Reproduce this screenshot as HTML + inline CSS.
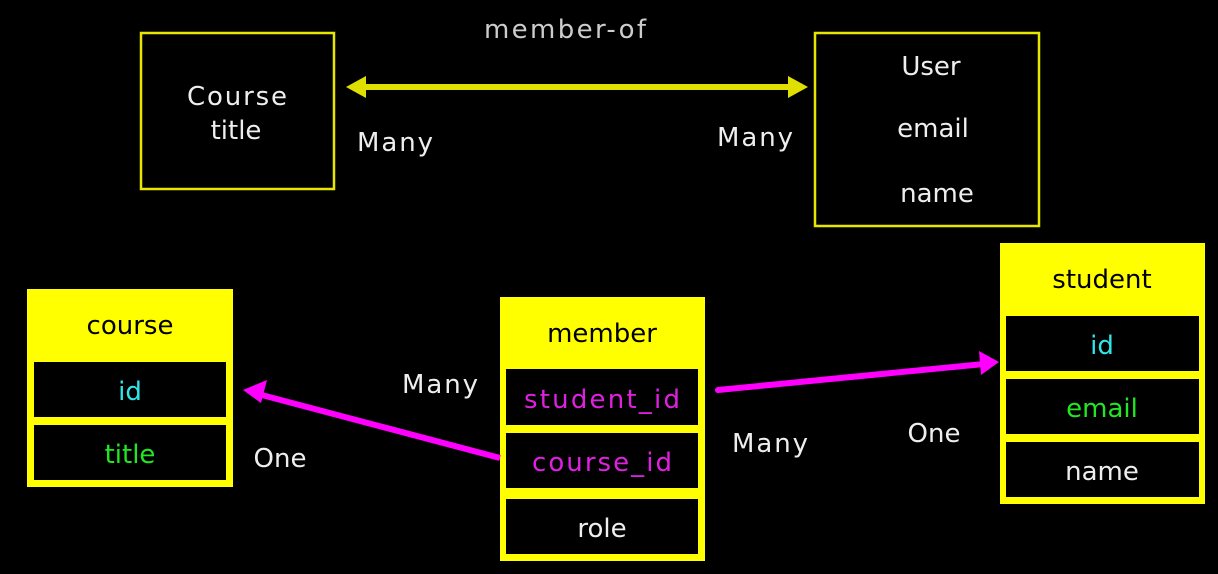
<!DOCTYPE html>
<html><head><meta charset="utf-8"><style>
html,body{margin:0;padding:0;background:#000;width:1218px;height:574px;overflow:hidden}
text{font-family:"DejaVu Sans","Liberation Sans",sans-serif;font-size:26px;text-anchor:middle}
</style></head><body>
<svg width="1218" height="574" viewBox="0 0 1218 574" xmlns="http://www.w3.org/2000/svg">
<rect width="1218" height="574" fill="#000"/>
<!-- top boxes -->
<rect x="141" y="33" width="193" height="156" fill="none" stroke="#e6e600" stroke-width="2.5"/>
<rect x="815" y="33" width="224" height="193" fill="none" stroke="#e6e600" stroke-width="2.5"/>
<text x="237" y="105" fill="#eee" textLength="100">Course</text>
<text x="236" y="139" fill="#eee">title</text>
<text x="931" y="75" fill="#eee">User</text>
<text x="933" y="137" fill="#eee">email</text>
<text x="937" y="202" fill="#eee">name</text>
<text x="565" y="38" fill="#ccc" textLength="162">member-of</text>
<text x="395" y="151" fill="#eee" textLength="76">Many</text>
<text x="755" y="146" fill="#eee" textLength="76">Many</text>
<line x1="360" y1="87" x2="795" y2="87" stroke="#e0e000" stroke-width="6"/>
<polygon points="346,87 366,76 366,98" fill="#e0e000"/>
<polygon points="808,87 788,76 788,98" fill="#e0e000"/>
<!-- course table -->
<rect x="27" y="289" width="206" height="198" fill="#ffff00"/>
<rect x="34" y="362" width="192" height="55" fill="#000"/>
<rect x="34" y="425" width="192" height="55" fill="#000"/>
<text x="130" y="334" fill="#000">course</text>
<text x="130" y="400" fill="#2ee6e6">id</text>
<text x="130" y="463" fill="#22e622">title</text>
<!-- member table -->
<rect x="500" y="297" width="205" height="264" fill="#ffff00"/>
<rect x="506" y="369" width="192" height="56" fill="#000"/>
<rect x="506" y="433" width="192" height="55" fill="#000"/>
<rect x="506" y="499" width="192" height="55" fill="#000"/>
<text x="602" y="342" fill="#000">member</text>
<text x="602" y="408" fill="#e020e0" textLength="156">student_id</text>
<text x="602" y="471" fill="#e020e0" textLength="140">course_id</text>
<text x="602" y="537" fill="#eee">role</text>
<!-- student table -->
<rect x="1000" y="243" width="205" height="261" fill="#ffff00"/>
<rect x="1006" y="316" width="193" height="55" fill="#000"/>
<rect x="1006" y="379" width="193" height="55" fill="#000"/>
<rect x="1006" y="442" width="193" height="55" fill="#000"/>
<text x="1102" y="288" fill="#000">student</text>
<text x="1102" y="354" fill="#2ee6e6">id</text>
<text x="1102" y="417" fill="#22e622">email</text>
<text x="1102" y="480" fill="#eee">name</text>
<!-- magenta arrows -->
<line x1="500" y1="458" x2="258" y2="394" stroke="#ff00ff" stroke-width="6"/>
<polygon points="243,390 267,380 261,403" fill="#ff00ff"/>
<line x1="718" y1="390" x2="984" y2="364" stroke="#ff00ff" stroke-width="6" stroke-linecap="round"/>
<polygon points="999,362 979,351 981,375" fill="#ff00ff"/>
<text x="440" y="393" fill="#eee" textLength="76">Many</text>
<text x="280" y="467" fill="#eee">One</text>
<text x="770" y="452" fill="#eee" textLength="76">Many</text>
<text x="934" y="442" fill="#eee">One</text>
</svg>
</body></html>
